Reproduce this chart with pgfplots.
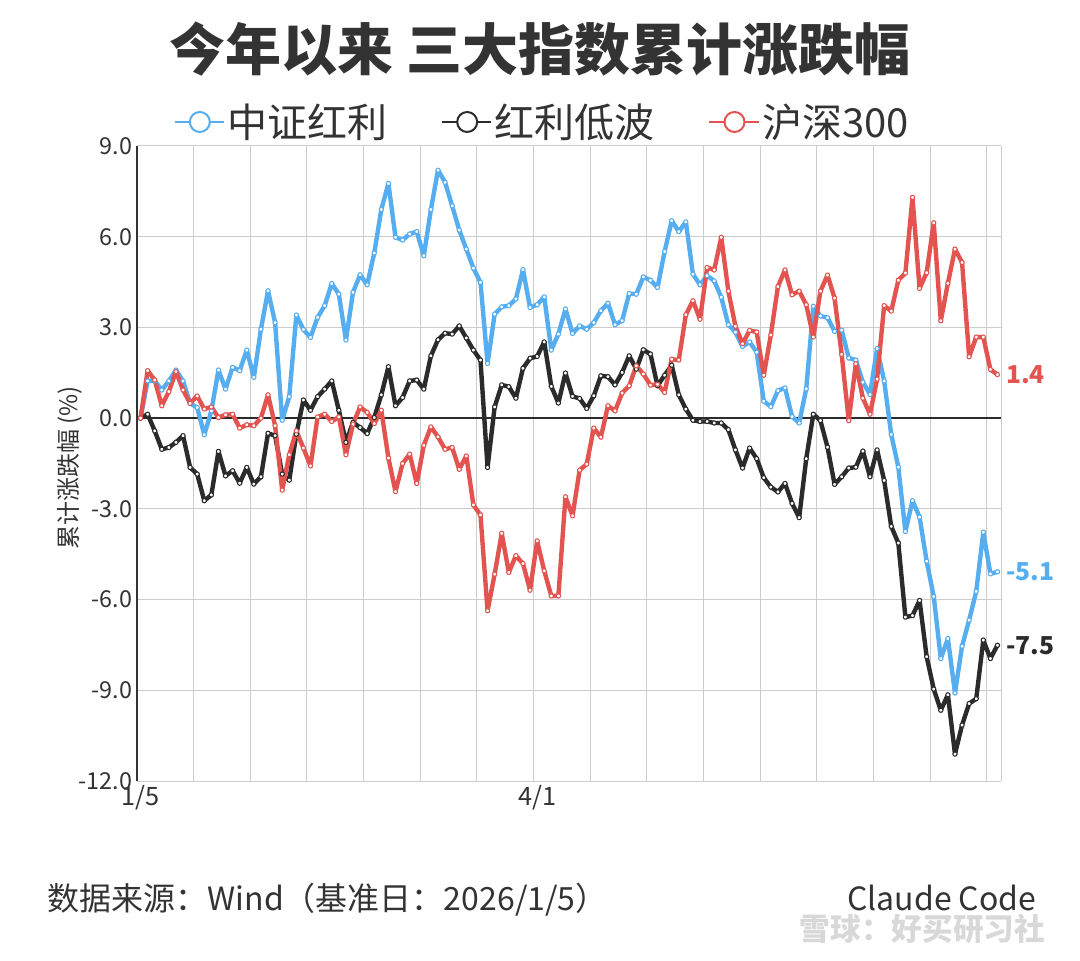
\documentclass[border=0pt]{standalone}
\usepackage{fontspec}
\setmainfont{Noto Sans CJK SC}
\usepackage{pgfplots}
\pgfplotsset{compat=1.18}
\usepackage{pgfplotstable}
\definecolor{cblue}{HTML}{56ADF0}
\definecolor{cblack}{HTML}{2B2B2B}
\definecolor{cred}{HTML}{E35450}
\definecolor{cgrid}{HTML}{CCCCCC}
\definecolor{ctext}{HTML}{333333}
\definecolor{cwm}{HTML}{D8D8D8}

\pgfplotstableread{
i a b c
0 0 0 0
1 1.23 0.13 1.57
2 1.23 -0.42 1.26
3 0.93 -1.03 0.41
4 1.23 -0.97 0.88
5 1.59 -0.80 1.54
6 1.23 -0.58 0.93
7 0.49 -1.63 0.49
8 0.35 -1.85 0.73
9 -0.55 -2.73 0.30
10 0.24 -2.54 0.37
11 1.59 -1.10 0.02
12 0.96 -1.91 0.11
13 1.68 -1.74 0.13
14 1.57 -2.15 -0.33
15 2.25 -1.63 -0.22
16 1.35 -2.18 -0.25
17 2.94 -1.94 0.00
18 4.21 -0.50 0.77
19 3.16 -0.58 -0.25
20 -0.07 -1.85 -2.38
21 0.71 -2.05 -1.21
22 3.41 -0.53 -0.42
23 2.93 0.60 -0.99
24 2.67 0.26 -1.58
25 3.33 0.71 0.04
26 3.72 0.96 0.13
27 4.45 1.23 -0.11
28 4.10 0.26 0.04
29 2.58 -0.80 -1.21
30 4.16 -0.14 -0.20
31 4.74 -0.31 0.37
32 4.41 -0.51 0.19
33 5.46 0.02 -0.18
34 6.90 0.77 0.26
35 7.76 1.70 -1.32
36 5.98 0.41 -2.43
37 5.89 0.68 -1.50
38 6.09 1.23 -1.19
39 6.17 1.26 -2.16
40 5.37 0.96 -0.90
41 6.90 2.06 -0.29
42 8.20 2.59 -0.62
43 7.80 2.81 -1.03
44 7.02 2.78 -0.97
45 6.22 3.05 -1.69
46 5.59 2.65 -1.25
47 4.96 2.25 -2.87
48 4.49 1.92 -3.20
49 1.81 -1.63 -6.37
50 3.44 0.37 -5.16
51 3.68 1.10 -3.81
52 3.72 1.04 -5.10
53 3.94 0.66 -4.55
54 4.91 1.65 -4.81
55 3.66 1.98 -5.69
56 3.75 2.04 -4.06
57 4.01 2.52 -5.05
58 2.25 1.05 -5.88
59 2.78 0.50 -5.88
60 3.61 1.49 -2.60
61 2.80 0.72 -3.23
62 3.05 0.65 -1.72
63 2.94 0.32 -1.52
64 3.16 0.74 -0.33
65 3.55 1.40 -0.63
66 3.80 1.37 0.41
67 3.09 1.10 0.24
68 3.22 1.51 0.83
69 4.12 2.06 1.07
70 4.10 1.62 1.73
71 4.67 2.26 1.46
72 4.56 2.12 1.09
73 4.32 1.07 1.12
74 5.51 1.42 0.85
75 6.53 1.75 1.95
76 6.17 0.77 1.92
77 6.49 0.30 3.42
78 4.76 -0.07 3.88
79 4.41 -0.11 3.27
80 4.71 -0.11 4.98
81 4.54 -0.16 4.90
82 4.00 -0.16 5.98
83 3.09 -0.38 4.20
84 2.84 -1.05 3.04
85 2.37 -1.65 2.46
86 2.52 -0.99 2.90
87 2.18 -1.34 2.85
88 0.56 -1.97 1.42
89 0.38 -2.28 2.75
90 0.91 -2.44 4.35
91 1.00 -2.16 4.90
92 0.05 -2.82 4.08
93 -0.16 -3.29 4.20
94 0.97 -1.34 3.75
95 3.70 0.13 2.68
96 3.38 -0.08 4.20
97 3.32 -0.96 4.73
98 2.87 -2.19 3.97
99 2.91 -1.94 2.11
100 1.99 -1.65 -0.08
101 1.92 -1.62 1.80
102 1.19 -1.09 0.66
103 0.78 -1.94 0.13
104 2.30 -1.05 1.29
105 1.23 -2.06 3.72
106 -0.54 -3.58 3.54
107 -1.62 -4.13 4.56
108 -3.75 -6.58 4.80
109 -2.73 -6.53 7.30
110 -3.27 -6.03 4.29
111 -4.73 -7.89 4.81
112 -5.90 -8.96 6.46
113 -7.95 -9.66 3.22
114 -7.29 -9.15 4.46
115 -9.09 -11.11 5.59
116 -7.54 -10.15 5.15
117 -6.68 -9.44 2.03
118 -5.73 -9.28 2.68
119 -3.77 -7.34 2.68
120 -5.15 -7.95 1.61
121 -5.08 -7.51 1.44
}\data

\begin{document}
\begin{tikzpicture}[x=0.75pt,y=0.75pt]
\useasboundingbox (0,0) rectangle (1080,960);
\coordinate (O) at (137,179);
\begin{axis}[
  at={(O)}, anchor=south west,
  scale only axis, width=648pt, height=476.25pt,
  xmin=0, xmax=122, ymin=-12, ymax=9,
  clip=false,
  axis line style={draw=none},
  xtick={0,8,...,120,122}, xticklabels={},
  ytick={-12,-9,-6,-3,0,3,6,9},
  yticklabels={{-12.0},{-9.0},{-6.0},{-3.0},{0.0},{3.0},{6.0},{9.0}},
  major tick length=0pt,
  grid=major,
  major grid style={cgrid, line width=0.75pt},
  yticklabel style={font=\fontsize{17.5}{20}\selectfont, text=ctext},
  extra x ticks={0.5,56.5},
  extra x tick labels={1/5,4/1},
  extra x tick style={grid=none, major tick length=0pt,
     tick label style={font=\fontsize{19}{22}\selectfont, text=ctext}},
  ylabel={累计涨跌幅 (\%)},
  ylabel style={at={(axis description cs:-0.0775,0.493)}, anchor=center,
     font=\fontsize{18}{20}\selectfont, text=ctext},
  title={\bfseries 今年以来 三大指数累计涨跌幅},
  title style={at={(axis description cs:0.4664,1.140)}, anchor=center,
     font=\fontsize{42}{48}\selectfont, text=ctext},
  legend columns=3,
  legend style={draw=none, fill=none,
     at={(axis description cs:0.4693,1.0378)}, anchor=center,
     font=\fontsize{30}{34}\selectfont, text=ctext,
     inner sep=0pt, nodes={inner sep=2pt},
     /tikz/every even column/.append style={column sep=38pt}},
  legend image code/.code={
     \draw[#1, line width=1.5pt] (0pt,0pt) -- (37pt,0pt);
     \draw[#1, line width=1.5pt, fill=white] (19pt,0pt) circle (7.5pt);
  },
  every axis plot/.append style={line width=3.3pt, mark=*, mark size=1.6pt,
     line join=round},
]
\draw[cblack, line width=1.5pt] (axis cs:0,0) -- (axis cs:122,0);
\draw[ctext, line width=2pt] (axis cs:0,-12) -- (axis cs:0,9);

\addplot[cblue, mark options={fill=white, draw=cblue, line width=0.8pt}]
  table[x expr=\thisrow{i}+0.5, y=a] {\data};
\addlegendentry{中证红利}
\addplot[cblack, mark options={fill=white, draw=cblack, line width=0.8pt}]
  table[x expr=\thisrow{i}+0.5, y=b] {\data};
\addlegendentry{红利低波}
\addplot[cred, mark options={fill=white, draw=cred, line width=0.8pt}]
  table[x expr=\thisrow{i}+0.5, y=c] {\data};
\addlegendentry{沪深300}

\node[anchor=west, text=cred, font=\fontsize{18.5}{20}\selectfont\bfseries]
  at (axis cs:121.5,1.44) [xshift=3pt] {1.4};
\node[anchor=west, text=cblue, font=\fontsize{18.5}{20}\selectfont\bfseries]
  at (axis cs:121.5,-5.08) [xshift=3pt] {-5.1};
\node[anchor=west, text=cblack, font=\fontsize{18.5}{20}\selectfont\bfseries]
  at (axis cs:121.5,-7.51) [xshift=3pt] {-7.5};
\end{axis}

\node[anchor=west, text=ctext, font=\fontsize{24}{28}\selectfont]
  at (43,60) {数据来源：Wind（基准日：2026/1/5）};
\node[anchor=east, text=ctext, font=\fontsize{24}{28}\selectfont]
  at (1041,62) {Claude Code};
\node[anchor=east, text=cwm, font=\fontsize{23}{26}\selectfont\bfseries]
  at (1050,31) {雪球：好买研习社};
\end{tikzpicture}
\end{document}
